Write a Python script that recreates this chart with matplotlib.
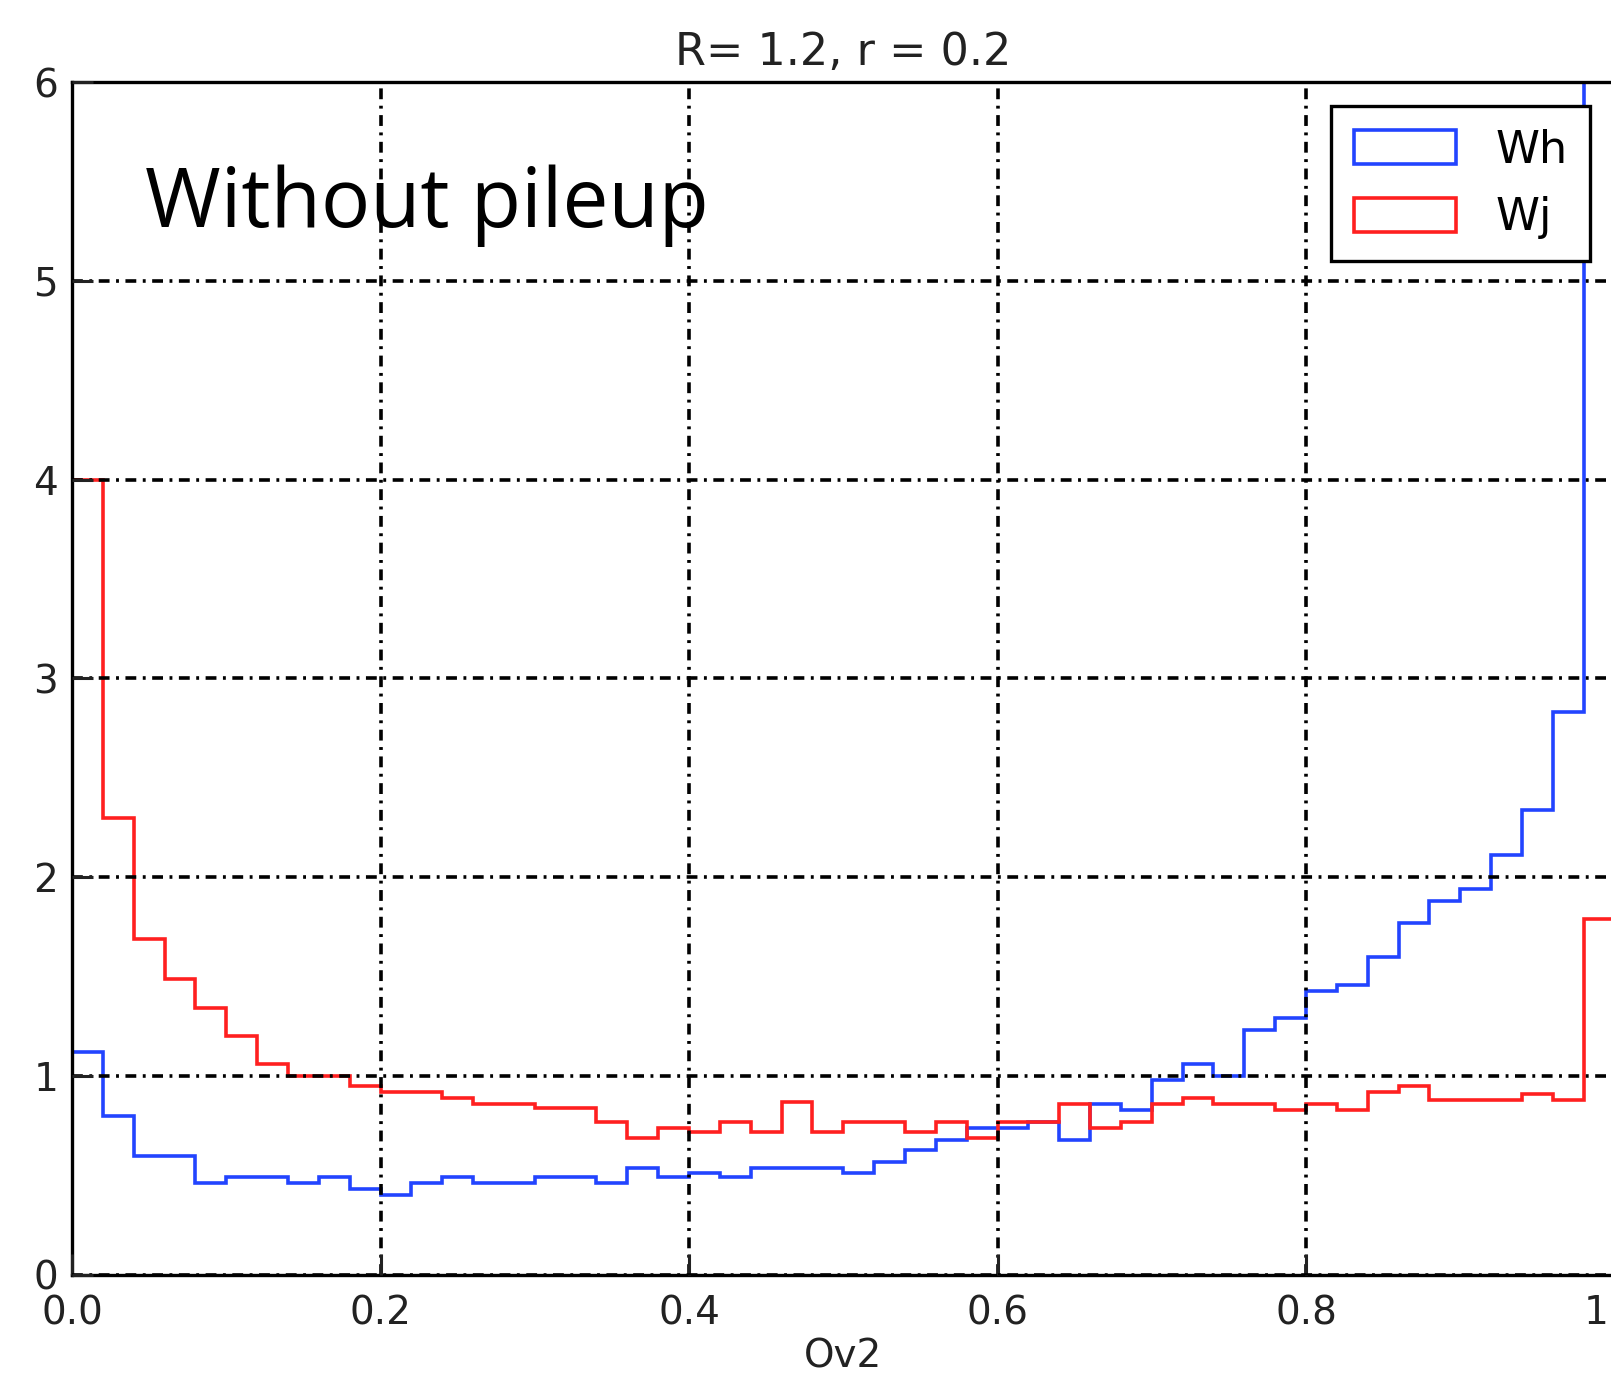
import numpy as np
import matplotlib
matplotlib.use('Agg')
import matplotlib.pyplot as plt

# 50 bins on Ov2 in [0, 1]
bin_edges = np.linspace(0.0, 1.0, 51)

# Wh histogram heights (last bin runs off the top of the plot)
wh = [1.12, 0.80, 0.60, 0.60, 0.46, 0.49, 0.49, 0.46, 0.49, 0.43,
      0.40, 0.46, 0.49, 0.46, 0.46, 0.49, 0.49, 0.46, 0.54, 0.49,
      0.51, 0.49, 0.54, 0.54, 0.54, 0.51, 0.57, 0.63, 0.68, 0.74,
      0.74, 0.77, 0.68, 0.86, 0.83, 0.98, 1.06, 1.00, 1.23, 1.29,
      1.43, 1.46, 1.60, 1.77, 1.88, 1.94, 2.11, 2.34, 2.83, 8.00]

# Wj histogram heights
wj = [4.00, 2.30, 1.69, 1.49, 1.34, 1.20, 1.06, 1.00, 1.00, 0.95,
      0.92, 0.92, 0.89, 0.86, 0.86, 0.84, 0.84, 0.77, 0.69, 0.74,
      0.72, 0.77, 0.72, 0.87, 0.72, 0.77, 0.77, 0.72, 0.77, 0.69,
      0.77, 0.77, 0.86, 0.74, 0.77, 0.86, 0.89, 0.86, 0.86, 0.83,
      0.86, 0.83, 0.92, 0.95, 0.88, 0.88, 0.88, 0.91, 0.88, 1.79]

x_ticks = [0.0, 0.2, 0.4, 0.6, 0.8, 1.0]
y_ticks = [0, 1, 2, 3, 4, 5, 6]

fig = plt.figure(figsize=(16.11, 13.79), dpi=100)
# right edge sits just past the canvas, so the right side is cut off
ax = fig.add_axes([0.0447, 0.0755, 0.9575, 0.8650])

centers = (bin_edges[:-1] + bin_edges[1:]) / 2
ax.hist(centers, bins=bin_edges, weights=wh, histtype='step',
        color='#2244ff', linewidth=2.6, label='Wh')
ax.hist(centers, bins=bin_edges, weights=wj, histtype='step',
        color='#ff2020', linewidth=2.6, label='Wj')

ax.set_xlim(0, 1)
ax.set_ylim(0, 6)
ax.set_xticks(x_ticks)
ax.set_yticks(y_ticks)
ax.set_axisbelow(False)
ax.grid(True, color='k', linestyle=(0, (3.0, 1.8, 0.8, 1.8)), linewidth=2.6)
# the x = 1 grid line falls on the cut-off edge
ax.get_xgridlines()[-1].set_visible(False)

ax.tick_params(direction='in', length=15, width=2.2, labelsize=28, colors='#222222')
ax.tick_params(axis='x', pad=14)
ax.tick_params(axis='y', pad=10)
for s in ax.spines.values():
    s.set_linewidth(2.4)
    s.set_color('k')
ax.spines['right'].set_visible(False)

ax.set_title('R= 1.2, r = 0.2', fontsize=32, color='#222222', pad=12)
ax.set_xlabel('Ov2', fontsize=28, color='#222222', labelpad=4)

ax.text(0.047, 5.27, 'Without pileup', fontsize=59, family='Open Sans', color='k')

leg = ax.legend(loc='upper right', fontsize=32, handlelength=2.3, handleheight=0.8,
                handletextpad=0.9, labelspacing=0.55, borderpad=0.5,
                borderaxespad=0.55, fancybox=False, framealpha=1)
leg.get_frame().set_edgecolor('k')
leg.get_frame().set_linewidth(2.4)

fig.savefig('out.png', dpi=100)
